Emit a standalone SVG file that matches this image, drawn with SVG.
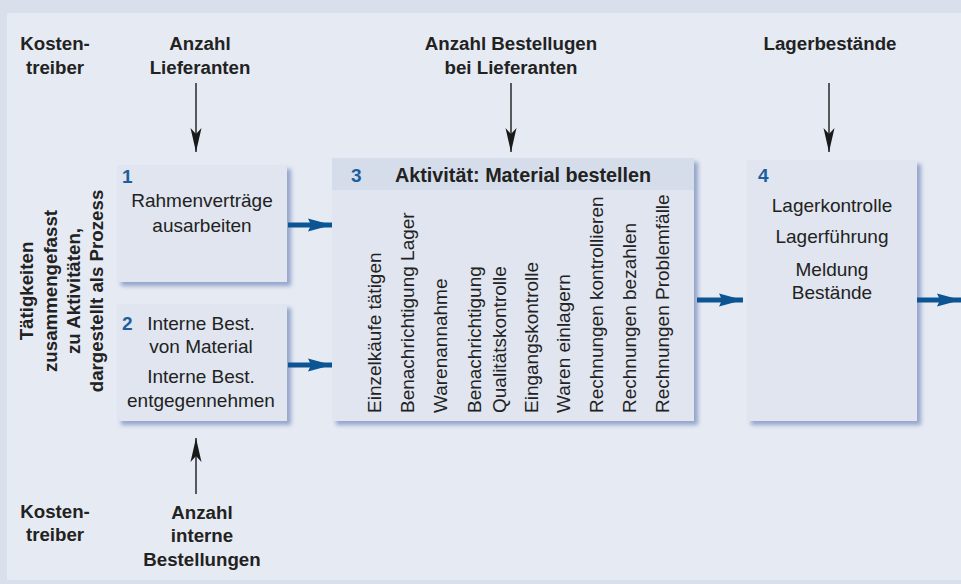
<svg xmlns="http://www.w3.org/2000/svg" width="961" height="584" viewBox="0 0 961 584">
  <defs>
    <style>
      .lbl { font-family: "Liberation Sans", Arial, sans-serif; font-weight: bold; font-size: 18.7px; fill: #222; text-anchor: middle; }
      .txt { font-family: "Liberation Sans", Arial, sans-serif; font-size: 19px; fill: #222; }
      .mid { text-anchor: middle; }
      .num { font-family: "Liberation Sans", Arial, sans-serif; font-weight: bold; font-size: 19px; fill: #1d5f9d; }
      .hdr { font-family: "Liberation Sans", Arial, sans-serif; font-weight: bold; font-size: 19.8px; fill: #222; }
      .box { fill: #e0e5ef; filter: url(#shadow); }
      .blk { stroke: #1a1a1a; stroke-width: 1.4; fill: none; marker-end: url(#blackHead); }
      .blu { stroke: #0c5592; stroke-width: 5; fill: none; marker-end: url(#blueHead); }
    </style>
    <filter id="shadow" x="-10%" y="-10%" width="130%" height="130%">
      <feDropShadow dx="4" dy="4" stdDeviation="2.2" flood-color="#8a9dc6" flood-opacity="0.9"/>
    </filter>
    <marker id="blackHead" viewBox="0 -6 24 12" refX="24" refY="0" markerWidth="24" markerHeight="12" markerUnits="userSpaceOnUse" orient="auto">
      <path d="M0,-5.5 L24,0 L0,5.5 L6,0 Z" fill="#1a1a1a"/>
    </marker>
    <marker id="blueHead" viewBox="0 -7 24 14" refX="24" refY="0" markerWidth="24" markerHeight="14" markerUnits="userSpaceOnUse" orient="auto">
      <path d="M0,-6.5 L24,0 L0,6.5 L3,0 Z" fill="#0c5592"/>
    </marker>
  </defs>

  <rect x="0" y="0" width="961" height="584" fill="#d9e0ec"/>
  <rect x="7" y="13" width="954" height="567" fill="#e6eaf3"/>

  <g id="labels">
    <text class="lbl" x="55" y="50">Kosten-</text>
    <text class="lbl" x="55" y="74">treiber</text>
    <text class="lbl" x="200" y="50">Anzahl</text>
    <text class="lbl" x="200" y="74">Lieferanten</text>
    <text class="lbl" x="511" y="50">Anzahl Bestellugen</text>
    <text class="lbl" x="511" y="74">bei Lieferanten</text>
    <text class="lbl" x="830" y="50">Lagerbestände</text>
    <text class="lbl" x="55" y="518">Kosten-</text>
    <text class="lbl" x="55" y="541">treiber</text>
    <text class="lbl" x="202" y="519">Anzahl</text>
    <text class="lbl" x="202" y="542">interne</text>
    <text class="lbl" x="202" y="566">Bestellungen</text>
    <text class="lbl" transform="translate(33,291) rotate(-90)">Tätigkeiten</text>
    <text class="lbl" transform="translate(57,291) rotate(-90)">zusammengefasst</text>
    <text class="lbl" transform="translate(80,291) rotate(-90)">zu Aktivitäten,</text>
    <text class="lbl" transform="translate(103,291) rotate(-90)">dargestellt als Prozess</text>
  </g>

  <g id="node1">
    <rect class="box" x="117" y="165" width="170" height="117"/>
    <text class="num" x="122" y="183">1</text>
    <text class="txt mid" x="202" y="207">Rahmenverträge</text>
    <text class="txt mid" x="202" y="232">ausarbeiten</text>
  </g>

  <g id="node2">
    <rect class="box" x="117" y="304" width="170" height="117"/>
    <text class="num" x="122" y="330">2</text>
    <text class="txt mid" x="201" y="330">Interne Best.</text>
    <text class="txt mid" x="201" y="353">von Material</text>
    <text class="txt mid" x="201" y="383">Interne Best.</text>
    <text class="txt mid" x="201" y="407">entgegennehmen</text>
  </g>

  <g id="node3">
    <rect class="box" x="332" y="158" width="362" height="263"/>
    <rect x="332" y="158" width="362" height="32" fill="#d6ddea"/>
    <text class="num" x="351" y="182">3</text>
    <text class="hdr" x="395" y="182">Aktivität: Material bestellen</text>
    <text class="txt" transform="translate(381,413) rotate(-90)">Einzelkäufe tätigen</text>
    <text class="txt" transform="translate(414,413) rotate(-90)">Benachrichtigung Lager</text>
    <text class="txt" transform="translate(447,413) rotate(-90)">Warenannahme</text>
    <text class="txt" transform="translate(481,413) rotate(-90)">Benachrichtigung</text>
    <text class="txt" transform="translate(506,413) rotate(-90)">Qualitätskontrolle</text>
    <text class="txt" transform="translate(538,413) rotate(-90)">Eingangskontrolle</text>
    <text class="txt" transform="translate(570,413) rotate(-90)">Waren einlagern</text>
    <text class="txt" transform="translate(603,413) rotate(-90)">Rechnungen kontrollieren</text>
    <text class="txt" transform="translate(636,413) rotate(-90)">Rechnungen bezahlen</text>
    <text class="txt" transform="translate(669,413) rotate(-90)">Rechnungen Problemfälle</text>
  </g>

  <g id="node4">
    <rect class="box" x="747" y="160" width="170" height="261"/>
    <text class="num" x="758" y="182">4</text>
    <text class="txt mid" x="832" y="212">Lagerkontrolle</text>
    <text class="txt mid" x="832" y="243">Lagerführung</text>
    <text class="txt mid" x="832" y="276">Meldung</text>
    <text class="txt mid" x="832" y="299">Bestände</text>
  </g>

  <g id="connectors">
    <line class="blk" x1="196" y1="83" x2="196" y2="152"/>
    <line class="blk" x1="511" y1="83" x2="511" y2="152"/>
    <line class="blk" x1="829" y1="83" x2="829" y2="152"/>
    <line class="blk" x1="196" y1="494" x2="196" y2="438"/>
    <line class="blu" x1="288" y1="225" x2="332" y2="225"/>
    <line class="blu" x1="288" y1="365" x2="332" y2="365"/>
    <line class="blu" x1="697" y1="300" x2="743" y2="300"/>
    <line class="blu" x1="917" y1="300" x2="961" y2="300"/>
  </g>
</svg>
